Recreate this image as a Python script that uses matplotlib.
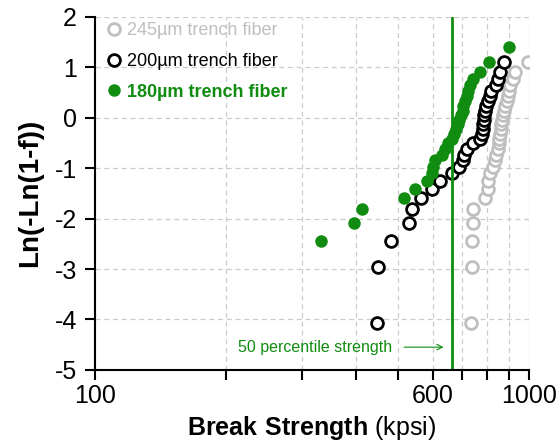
import numpy as np
import matplotlib
matplotlib.use("Agg")
import matplotlib.pyplot as plt
from matplotlib.ticker import FixedLocator, NullLocator

plt.rcParams['font.family'] = ['Liberation Sans', 'DejaVu Sans']
plt.rcParams['axes.unicode_minus'] = False
plt.rcParams['mathtext.fontset'] = 'custom'
plt.rcParams['mathtext.rm'] = 'Liberation Sans'
plt.rcParams['mathtext.bf'] = 'Liberation Sans:bold'

# 245um trench fiber
gray_x = [734, 738, 738, 742, 744, 792, 806, 806, 813, 825, 835, 840, 847, 852, 854,
          857, 861, 864, 865, 870, 876, 881, 888, 893, 898, 904, 920, 928, 996]
gray_y = [-4.08, -2.97, -2.44, -2.09, -1.82, -1.60, -1.41, -1.25, -1.10, -0.97, -0.84,
          -0.73, -0.62, -0.51, -0.42, -0.32, -0.23, -0.13, -0.04, 0.05, 0.14, 0.23,
          0.33, 0.43, 0.53, 0.64, 0.77, 0.91, 1.10]

# 200um trench fiber
black_x = [447, 448, 481, 529, 537, 563, 597, 624, 664, 691, 706, 709, 719, 742, 771,
           778, 782, 784, 786, 788, 790, 797, 806, 813, 818, 840, 850, 858, 877]
black_y = [-4.08, -2.97, -2.44, -2.09, -1.82, -1.60, -1.41, -1.25, -1.10, -0.97, -0.84,
           -0.73, -0.62, -0.51, -0.42, -0.32, -0.23, -0.13, -0.04, 0.05, 0.14, 0.23,
           0.33, 0.43, 0.53, 0.64, 0.77, 0.91, 1.10]

# 180um trench fiber
green_x = [331, 395, 412, 515, 546, 581, 597, 602, 607, 629, 640, 650, 664, 672,
           678, 686, 691, 698, 703, 706, 714, 719, 724, 732, 744, 771, 809, 899]
green_y = [-2.44, -2.09, -1.82, -1.60, -1.41, -1.25, -1.10, -0.97, -0.84, -0.73,
           -0.62, -0.51, -0.42, -0.32, -0.23, -0.13, -0.04, 0.05, 0.14, 0.23, 0.33,
           0.43, 0.53, 0.64, 0.77, 0.91, 1.10, 1.41]

median_strength = 665
labels = ["245\u00b5m trench fiber", "200\u00b5m trench fiber", "180\u00b5m trench fiber"]

green = "#108c10"
gray = "#bfbfbf"

fig = plt.figure(figsize=(5.58, 4.44), dpi=100)
ax = fig.add_axes([0.170, 0.167, 0.778, 0.795])

ax.plot(gray_x, gray_y, 'o', ms=8.5, mfc='white', mec=gray, mew=2, label=labels[0])
ax.plot(black_x, black_y, 'o', ms=8.5, mfc='white', mec='black', mew=2, label=labels[1])
ax.plot(green_x, green_y, 'o', ms=9, mfc=green, mec=green, mew=0, label=labels[2])

ax.axvline(median_strength, color=green, lw=2)
ax.annotate("", xy=(645, -4.55), xytext=(508, -4.55),
            arrowprops=dict(arrowstyle="->", color=green, lw=0.8))
ax.text(483, -4.55, "50 percentile strength", color=green, fontsize=11.5,
        ha="right", va="center")

ax.set_xscale("log")
ax.set_xlim(100, 1000)
ax.set_ylim(-5, 2)

ticks = [100, 200, 300, 400, 500, 600, 700, 800, 900, 1000]
ax.xaxis.set_major_locator(FixedLocator(ticks))
ax.xaxis.set_minor_locator(NullLocator())
ax.set_xticklabels(["100", "", "", "", "", "600", "", "", "", "1000"])
ax.set_yticks(range(-5, 3))

ax.grid(True, ls=(0, (4, 3)), color="#cccccc", lw=0.9)
ax.set_axisbelow(True)

ax.spines["top"].set_visible(False)
ax.spines["right"].set_visible(False)
ax.spines["left"].set_linewidth(1.5)
ax.spines["bottom"].set_linewidth(1.5)
ax.tick_params(labelsize=18, width=1.5, length=7)
ax.tick_params(axis="y", pad=6)

ax.set_xlabel(r"$\mathbf{Break\ Strength}$ (kpsi)", fontsize=18, labelpad=4)
ax.set_ylabel("Ln(-Ln(1-f))", fontsize=20, fontweight="bold", labelpad=8)

leg = ax.legend(loc="upper left", frameon=False, fontsize=13, handletextpad=0.1,
                borderaxespad=0.3, labelspacing=0.75, handlelength=1.2,
                bbox_to_anchor=(-0.01, 1.02))
cols = [gray, "black", green]
for t, c in zip(leg.get_texts(), cols):
    t.set_color(c)
leg.get_texts()[2].set_fontweight("bold")

fig.savefig("out.png", dpi=100)
